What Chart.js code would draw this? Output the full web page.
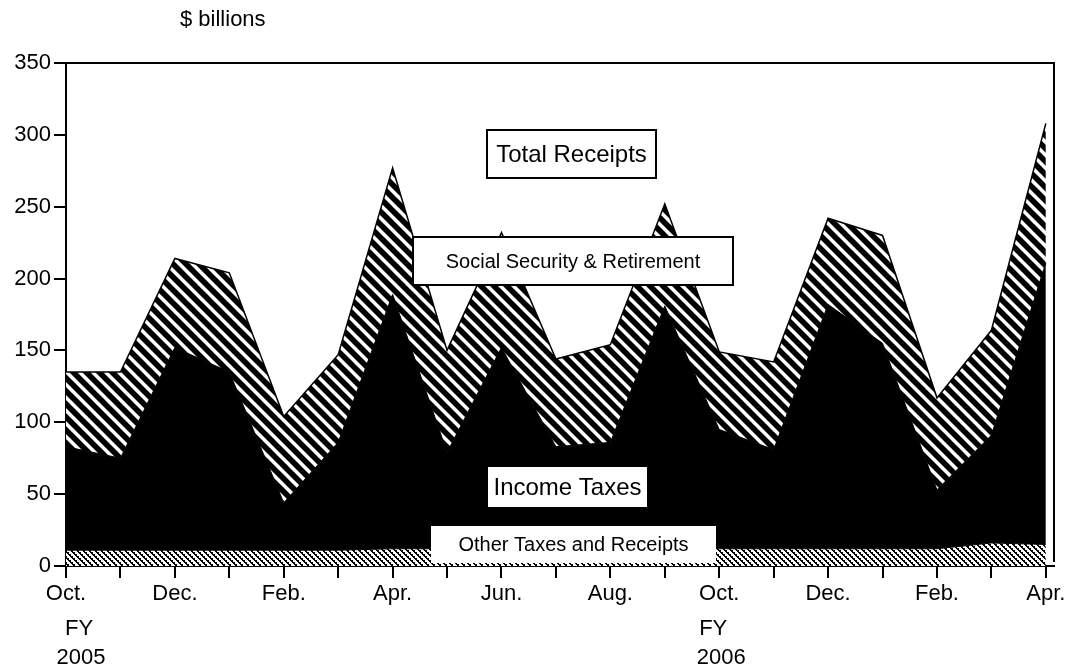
<!DOCTYPE html>
<html>
<head>
<meta charset="utf-8">
<script src="https://cdn.jsdelivr.net/npm/chart.js@4.4.0/dist/chart.umd.min.js"></script>
<style>
  html, body { margin: 0; padding: 0; background: #fff; }
  #wrap { width: 1075px; height: 672px; }
</style>
</head>
<body>
<div id="wrap"><canvas id="c" width="1075" height="672"></canvas></div>
<script>
// ---- Data ($ billions) ----
const months = ['Oct.','Nov.','Dec.','Jan.','Feb.','Mar.','Apr.','May','Jun.','Jul.','Aug.','Sep.','Oct.','Nov.','Dec.','Jan.','Feb.','Mar.','Apr.'];
const xTickLabels = ['Oct.','','Dec.','','Feb.','','Apr.','','Jun.','','Aug.','','Oct.','','Dec.','','Feb.','','Apr.'];
const totalReceipts = [135,135,214,204,104,147,277,150,232,144,154,252,149,142,242,230,117,164,308];
const incomeTaxesTop = [83,75,152,135,44,86,189,79,152,83,86,181,95,81,182,155,53,91,211];
const otherTaxesTop = [11,11,11,11,11,11,12,12,12,12,12,12,12,12,12,12,12,16,15];
const yTicks = [0,50,100,150,200,250,300,350];

const FONT = 'Liberation Sans, Arial, Helvetica, sans-serif';

function stripePattern(period, lw) {
  const cv = document.createElement('canvas');
  cv.width = period; cv.height = period;
  const g = cv.getContext('2d');
  g.fillStyle = '#fff'; g.fillRect(0, 0, period, period);
  g.strokeStyle = '#000'; g.lineWidth = lw; g.lineCap = 'square';
  for (const c of [-period, 0, period]) {
    g.beginPath(); g.moveTo(-2, c - 2); g.lineTo(period + 2, period + c + 2); g.stroke();
  }
  return g.createPattern(cv, 'repeat');
}
function finePattern() {
  const p = 6;
  const cv = document.createElement('canvas');
  cv.width = p; cv.height = p;
  const g = cv.getContext('2d');
  g.fillStyle = '#fff'; g.fillRect(0, 0, p, p);
  g.fillStyle = '#000';
  for (let i = 0; i < p; i++) {
    g.fillRect(i, i, 1, 1);
    g.fillRect((i + 1) % p, i, 1, 1);
    if (i % 2 === 0) g.fillRect((i + 2) % p, i, 1, 1);
  }
  return g.createPattern(cv, 'repeat');
}

const toXY = arr => arr.map((v, i) => ({ x: i, y: v }));

const overlay = {
  id: 'overlay',
  afterDatasetsDraw(chart) {
    const ctx = chart.ctx;
    const a = chart.chartArea;
    const xs = chart.scales.x;
    ctx.save();
    // frame top and right
    ctx.strokeStyle = '#000'; ctx.lineWidth = 2;
    ctx.beginPath();
    ctx.moveTo(a.left, a.top); ctx.lineTo(a.right, a.top); ctx.lineTo(a.right, a.bottom - 4);
    ctx.stroke();

    function box(x0, y0, x1, y1, text, size, border) {
      ctx.fillStyle = '#fff';
      ctx.fillRect(x0, y0, x1 - x0, y1 - y0);
      if (border) {
        ctx.strokeStyle = '#000'; ctx.lineWidth = 2;
        ctx.strokeRect(x0, y0, x1 - x0, y1 - y0);
      }
      ctx.fillStyle = '#000';
      ctx.font = size + 'px ' + FONT;
      ctx.textAlign = 'center'; ctx.textBaseline = 'middle';
      ctx.fillText(text, (x0 + x1) / 2, (y0 + y1) / 2 + 1);
    }
    box(487, 130, 656, 178, 'Total Receipts', 24, true);
    box(413, 237, 733, 285, 'Social Security & Retirement', 20, true);
    box(488, 467, 647, 507, 'Income Taxes', 24, false);
    box(431, 526, 716, 563, 'Other Taxes and Receipts', 20, false);

    // FY labels
    ctx.fillStyle = '#000';
    ctx.font = '22px ' + FONT;
    ctx.textAlign = 'center'; ctx.textBaseline = 'middle';
    const x0 = xs.getPixelForValue(0), x12 = xs.getPixelForValue(12);
    ctx.fillText('FY', x0 + 13, 629);
    ctx.fillText('2005', x0 + 15, 658);
    ctx.fillText('FY', x12 - 6, 629);
    ctx.fillText('2006', x12 + 2, 658);
    // unit label
    ctx.textAlign = 'left';
    ctx.fillText('$ billions', 180, 20);
    ctx.restore();
  }
};

new Chart(document.getElementById('c'), {
  type: 'line',
  data: {
    datasets: [
      { label: 'Other Taxes and Receipts', data: toXY(otherTaxesTop), fill: 'origin',
        backgroundColor: finePattern(), borderColor: '#000', borderWidth: 1, pointRadius: 0, tension: 0 },
      { label: 'Income Taxes', data: toXY(incomeTaxesTop), fill: '-1',
        backgroundColor: '#000', borderColor: '#000', borderWidth: 1, pointRadius: 0, tension: 0 },
      { label: 'Social Security & Retirement', data: toXY(totalReceipts), fill: '-1',
        backgroundColor: stripePattern(13, 5.6), borderColor: '#000', borderWidth: 1.5, pointRadius: 0, tension: 0 }
    ]
  },
  options: {
    responsive: false,
    animation: false,
    events: [],
    layout: { padding: { top: 63, right: 21, left: 0, bottom: 0 } },
    plugins: { legend: { display: false }, tooltip: { enabled: false }, title: { display: false } },
    scales: {
      x: {
        type: 'linear', min: 0, max: 18.15,
        afterFit(s) { s.height = 106; },
        afterBuildTicks(s) { s.ticks = months.map((_, i) => ({ value: i })); },
        grid: { drawOnChartArea: false, drawTicks: true, tickLength: 12, color: '#000', lineWidth: 2 },
        border: { color: '#000', width: 2 },
        ticks: {
          autoSkip: false, maxRotation: 0, minRotation: 0, padding: 3,
          color: '#000', font: { family: FONT, size: 22 },
          callback: (v) => xTickLabels[v] !== undefined ? xTickLabels[v] : ''
        }
      },
      y: {
        min: 0, max: 350,
        afterFit(s) { s.width = 66; },
        afterBuildTicks(s) { s.ticks = yTicks.map(v => ({ value: v })); },
        grid: { drawOnChartArea: false, drawTicks: true, tickLength: 12, color: '#000', lineWidth: 2 },
        border: { color: '#000', width: 2 },
        ticks: { padding: 3, color: '#000', font: { family: FONT, size: 22 } }
      }
    }
  },
  plugins: [overlay]
});
</script>
</body>
</html>
